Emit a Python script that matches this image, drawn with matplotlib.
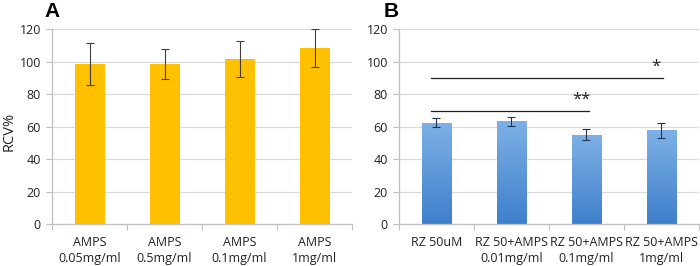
import matplotlib
matplotlib.use("Agg")
import matplotlib.pyplot as plt
import numpy as np
from matplotlib.colors import LinearSegmentedColormap

plt.rcParams['font.family'] = ['Open Sans', 'DejaVu Sans']

labels_a = ["AMPS\n0.05mg/ml", "AMPS\n0.5mg/ml", "AMPS\n0.1mg/ml", "AMPS\n1mg/ml"]
values_a = [98.5, 98.5, 101.7, 108.4]
errors_a = [13.0, 9.3, 10.8, 11.7]

labels_b = ["RZ 50uM\n ", "RZ 50+AMPS\n0.01mg/ml", "RZ 50+AMPS\n0.1mg/ml", "RZ 50+AMPS\n1mg/ml"]
values_b = [62.6, 63.3, 55.2, 57.8]
errors_b = [2.6, 3.0, 3.2, 4.7]

# significance brackets: (start, end, y, label)
sig_start = [-0.07, -0.07]
sig_end = [3.02, 2.03]
sig_y = [90, 70]
sig_text = ["*", "**"]
yticks = [0, 20, 40, 60, 80, 100, 120]

fig = plt.figure(figsize=(7.0, 2.66), dpi=100)
axA = fig.add_axes([52/700, 1-224.3/266, 300/700, 195/266])
axB = fig.add_axes([399/700, 1-224.3/266, 300/700, 195/266])

grid_c = '#d9d9d9'
axis_c = '#bfbfbf'

def style(ax, labels):
    ax.set_xlim(-0.5, 3.5)
    ax.set_ylim(0, 120)
    ax.set_yticks(yticks)
    ax.set_yticklabels([str(t) for t in yticks], fontsize=9, color='#222222')
    ax.yaxis.grid(True, color=grid_c, linewidth=0.9)
    ax.set_axisbelow(True)
    for s in ['top', 'right']:
        ax.spines[s].set_visible(False)
    for s in ['left', 'bottom']:
        ax.spines[s].set_color(axis_c)
        ax.spines[s].set_linewidth(0.9)
    ax.tick_params(axis='y', length=4, color=axis_c, pad=4)
    ax.set_xticks(np.arange(-0.5, 4.0, 1.0))
    ax.set_xticklabels([])
    ax.tick_params(axis='x', length=4, color=axis_c)
    x = np.arange(len(labels))
    for xi, lab in zip(x, labels):
        ax.text(xi, -7, lab, ha='center', va='top', fontsize=9, color='#222222',
                linespacing=1.35, transform=ax.transData, clip_on=False)

x = np.arange(4)
style(axA, labels_a)
axA.bar(x, values_a, width=0.4, color='#FFC000', zorder=2)
axA.errorbar(x, values_a, yerr=errors_a, fmt='none', ecolor='#404040', elinewidth=0.8,
             capsize=3, capthick=0.8, zorder=3)
fig.text(9/700, 1-131/266, "RCV%", rotation=90, ha='center', va='center',
         fontsize=10.5, color='#222222')
axA.text(-0.025, 1.045, "A", transform=axA.transAxes, fontsize=15, fontweight='bold',
         family=['Liberation Sans', 'DejaVu Sans'], ha='left', va='bottom')

style(axB, labels_b)
bars = axB.bar(x, values_b, width=0.39, color='none', zorder=2)
cmap = LinearSegmentedColormap.from_list('g', ['#3F7FCB', '#7DB1E6'])
grad = np.linspace(0, 1, 256).reshape(-1, 1)
for b in bars:
    x0, y0 = b.get_x(), b.get_y()
    w, h = b.get_width(), b.get_height()
    im = axB.imshow(grad, cmap=cmap, aspect='auto', origin='lower',
                    extent=[x0, x0 + w, y0, y0 + h], zorder=2)
    im.set_clip_path(b)
axB.set_xlim(-0.5, 3.5)
axB.set_ylim(0, 120)
axB.errorbar(x, values_b, yerr=errors_b, fmt='none', ecolor='#1f3550', elinewidth=0.8,
             capsize=3, capthick=0.8, zorder=3)
for s0, s1, yy, t in zip(sig_start, sig_end, sig_y, sig_text):
    axB.plot([s0, s1], [yy, yy], color='#222222', linewidth=0.9, zorder=4)
    axB.text(s1 - 0.1, yy + 2.0, t, ha='center', va='bottom', fontsize=12, color='#222222')
axB.text(-0.05, 1.045, "B", transform=axB.transAxes, fontsize=15, fontweight='bold',
         family=['Liberation Sans', 'DejaVu Sans'], ha='left', va='bottom')

fig.savefig("out.png", dpi=100)
